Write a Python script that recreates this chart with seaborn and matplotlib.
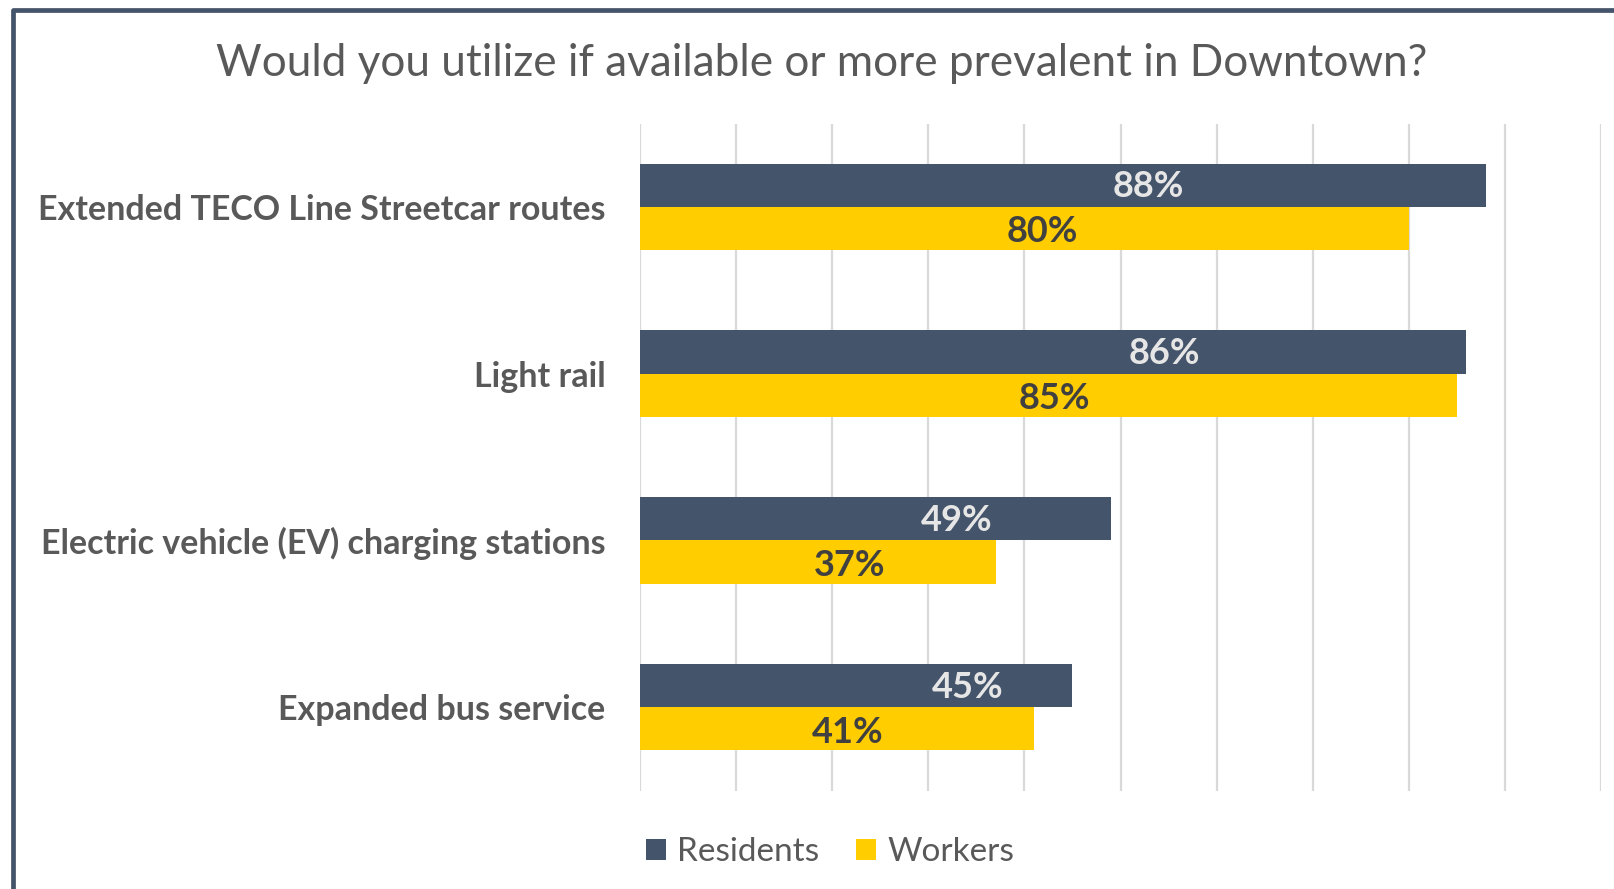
import matplotlib
matplotlib.use("Agg")
import matplotlib.pyplot as plt
from matplotlib.patches import Rectangle
import pandas as pd
import seaborn as sns

# Survey results (% who would use each option)
categories = [
    "Extended TECO Line Streetcar routes",
    "Light rail",
    "Electric vehicle (EV) charging stations",
    "Expanded bus service",
]
residents = [88, 86, 49, 45]
workers = [80, 85, 37, 41]
series = ["Residents", "Workers"]

# Where each value label sits along the bar (percent units)
residents_label_at = [52.9, 54.6, 32.9, 34.1]
workers_label_at = [41.9, 43.1, 21.8, 21.6]

colors = {"Residents": "#44546A", "Workers": "#FFCD00"}
text_gray = "#595959"

df = pd.DataFrame({
    "category": categories * 2,
    "group": ["Residents"] * len(categories) + ["Workers"] * len(categories),
    "value": residents + workers,
})

sns.set_theme(style="white")
plt.rcParams["font.family"] = ["Lato", "DejaVu Sans"]

fig = plt.figure(figsize=(16.14, 8.89), dpi=100)
ax = fig.add_axes([640 / 1614, 1 - 790.5 / 889, (1601 - 640) / 1614, (790.5 - 123.5) / 889])

sns.barplot(
    data=df, x="value", y="category", hue="group", order=categories,
    hue_order=series, palette=colors, orient="h", width=0.52,
    saturation=1, linewidth=0, ax=ax, legend=True,
)

ax.set_xlim(0, 100)
ax.set_ylim(3.5, -0.5)
ax.set_xticks(range(0, 101, 10))
ax.set_xticklabels([])
ax.xaxis.grid(True, color="#D9D9D9", linewidth=1.6)
ax.yaxis.grid(False)
ax.set_axisbelow(True)
for s in ax.spines.values():
    s.set_visible(False)
ax.set_xlabel("")
ax.set_ylabel("")
ax.tick_params(axis="y", length=0, pad=25)
ax.tick_params(axis="x", length=0)
for lab in ax.get_yticklabels():
    lab.set_fontsize(24.5)
    lab.set_fontweight("bold")
    lab.set_color(text_gray)
    lab.set_va("center_baseline")

# Value labels
off = 0.52 / 4
for i in range(len(categories)):
    ax.text(residents_label_at[i], i - off + 0.01, f"{residents[i]}%", ha="center", va="center",
            fontsize=26, fontweight="bold", color="#E7E6E6")
    ax.text(workers_label_at[i], i + off + 0.02, f"{workers[i]}%", ha="center", va="center",
            fontsize=26, fontweight="bold", color="#404040")

# Legend below the plot
handles, labels = ax.get_legend_handles_labels()
ax.legend(
    handles, labels, loc="center", bbox_to_anchor=(830 / 1614, 1 - 852 / 889),
    bbox_transform=fig.transFigure, ncol=2, frameon=False, fontsize=24,
    handlelength=0.6, handleheight=0.6, handletextpad=0.35, columnspacing=1.1,
    labelcolor=text_gray,
)

fig.text(822 / 1614, 1 - 64 / 889, "Would you utilize if available or more prevalent in Downtown?",
         ha="center", va="center", fontsize=31.8, color=text_gray)

# Outer frame (left and top edges visible)
frame = Rectangle((13.5 / 1614, -0.1), 1.2, 1.1 - 10.5 / 889, transform=fig.transFigure,
                  fill=False, edgecolor="#44546A", linewidth=3.4, joinstyle="round",
                  zorder=10)
fig.patches.append(frame)

fig.savefig("out.png", dpi=100, facecolor="white")
